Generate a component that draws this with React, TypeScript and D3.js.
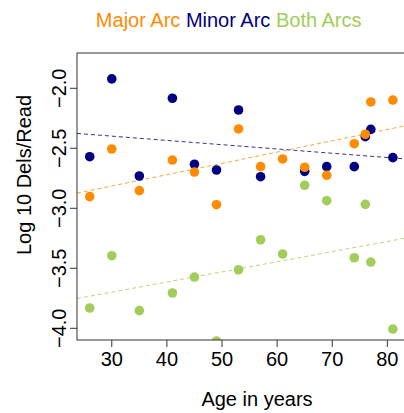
import React from "react";
import * as d3 from "d3";

// ages of the donors (x), one row per sample
const ages = [26, 30, 35, 41, 45, 49, 53, 57, 61, 65, 69, 74, 76, 77, 81];
// log10 deletions per read, by arc type (null = no point drawn)
const majorArc = [-2.903, -2.506, -2.853, -2.598, -2.698, -2.97, -2.339, -2.653, -2.589, -2.658, -2.725, -2.462, -2.383, -2.114, -2.098];
const minorArc = [-2.57, -1.922, -2.731, -2.083, -2.633, -2.681, -2.181, -2.737, null, -2.692, -2.653, -2.653, -2.403, -2.342, -2.578];
const bothArcs = [-3.831, -3.395, -3.853, -3.706, -3.573, -4.106, -3.512, -3.262, -3.381, -2.808, -2.937, -3.412, -2.967, -3.448, -4.006];

const seriesNames = ["Major Arc", "Minor Arc", "Both Arcs"];
const xTicks = [30, 40, 50, 60, 70, 80];
const yTicks = [-4.0, -3.5, -3.0, -2.5, -2.0];

const COLORS: Record<string, string> = {
  "Major Arc": "#ff8c00",
  "Minor Arc": "#000080",
  "Both Arcs": "#a2cd5a",
};

// least squares line through the points of one series
function fit(xs: number[], ys: (number | null)[]) {
  const pts = xs.map((x, i) => [x, ys[i]] as [number, number | null]).filter((p) => p[1] != null) as [number, number][];
  const mx = d3.mean(pts, (p) => p[0])!;
  const my = d3.mean(pts, (p) => p[1])!;
  const sxy = d3.sum(pts, (p) => (p[0] - mx) * (p[1] - my));
  const sxx = d3.sum(pts, (p) => (p[0] - mx) ** 2);
  const b = sxy / sxx;
  return { a: my - b * mx, b };
}

const App = () => {
  const W = 404, H = 413;
  const left = 77, right = 405, top = 53, bottom = 340;

  const x = d3.scaleLinear().domain([23.69, 83.2]).range([left, right]);
  const y = d3.scaleLinear().domain([-4.0975, -1.706]).range([bottom, top]);
  const fmt = d3.format(".1f");

  const series = [
    { name: "Minor Arc", values: minorArc },
    { name: "Major Arc", values: majorArc },
    { name: "Both Arcs", values: bothArcs },
  ];

  const font = "'Liberation Sans', Arial, Helvetica, sans-serif";
  const [x0, x1] = x.domain();

  return (
    <svg width={W} height={H} style={{ position: "absolute", left: 0, top: 0 }} fontFamily={font}>
      <rect width={W} height={H} fill="#fff" />
      <defs>
        <clipPath id="plot-clip">
          <rect x={left} y={top} width={right - left} height={bottom - top} />
        </clipPath>
      </defs>

      {/* legend-like title */}
      <text x={228.7} y={27} fontSize={20} textAnchor="middle">
        {seriesNames.map((n, i) => (
          <tspan key={n} fill={COLORS[n]}>
            {n}
            {i < seriesNames.length - 1 ? " " : ""}
          </tspan>
        ))}
      </text>

      <g clipPath="url(#plot-clip)">
        {series.map((s) => {
          const { a, b } = fit(ages, s.values);
          return (
            <line
              key={"fit-" + s.name}
              x1={x(x0)}
              y1={y(a + b * x0)}
              x2={x(x1)}
              y2={y(a + b * x1)}
              stroke={COLORS[s.name]}
              strokeOpacity={0.8}
              strokeWidth={1}
              strokeDasharray="4,3"
            />
          );
        })}
        {series.map((s) =>
          s.values.map((v, i) =>
            v == null ? null : (
              <circle key={s.name + i} cx={x(ages[i])} cy={y(v)} r={4.8} fill={COLORS[s.name]} />
            )
          )
        )}
      </g>

      <rect x={left} y={top} width={right - left} height={bottom - top} fill="none" stroke="#333" strokeWidth={1} />

      {/* x axis */}
      {xTicks.map((t) => (
        <g key={"x" + t}>
          <line x1={x(t)} x2={x(t)} y1={bottom} y2={bottom + 7} stroke="#333" />
          <text x={x(t)} y={366} fontSize={20} textAnchor="middle">
            {t}
          </text>
        </g>
      ))}
      <text x={257} y={406} fontSize={20} textAnchor="middle">
        Age in years
      </text>

      {/* y axis */}
      {yTicks.map((t) => (
        <g key={"y" + t}>
          <line x1={left - 7} x2={left} y1={y(t)} y2={y(t)} stroke="#333" />
          <text transform={`translate(66,${y(t)}) rotate(-90)`} fontSize={20} textAnchor="middle">
            {fmt(t)}
          </text>
        </g>
      ))}
      <text transform="translate(31,175) rotate(-90)" fontSize={20} textAnchor="middle">
        Log 10 Dels/Read
      </text>
    </svg>
  );
};

export default App;
